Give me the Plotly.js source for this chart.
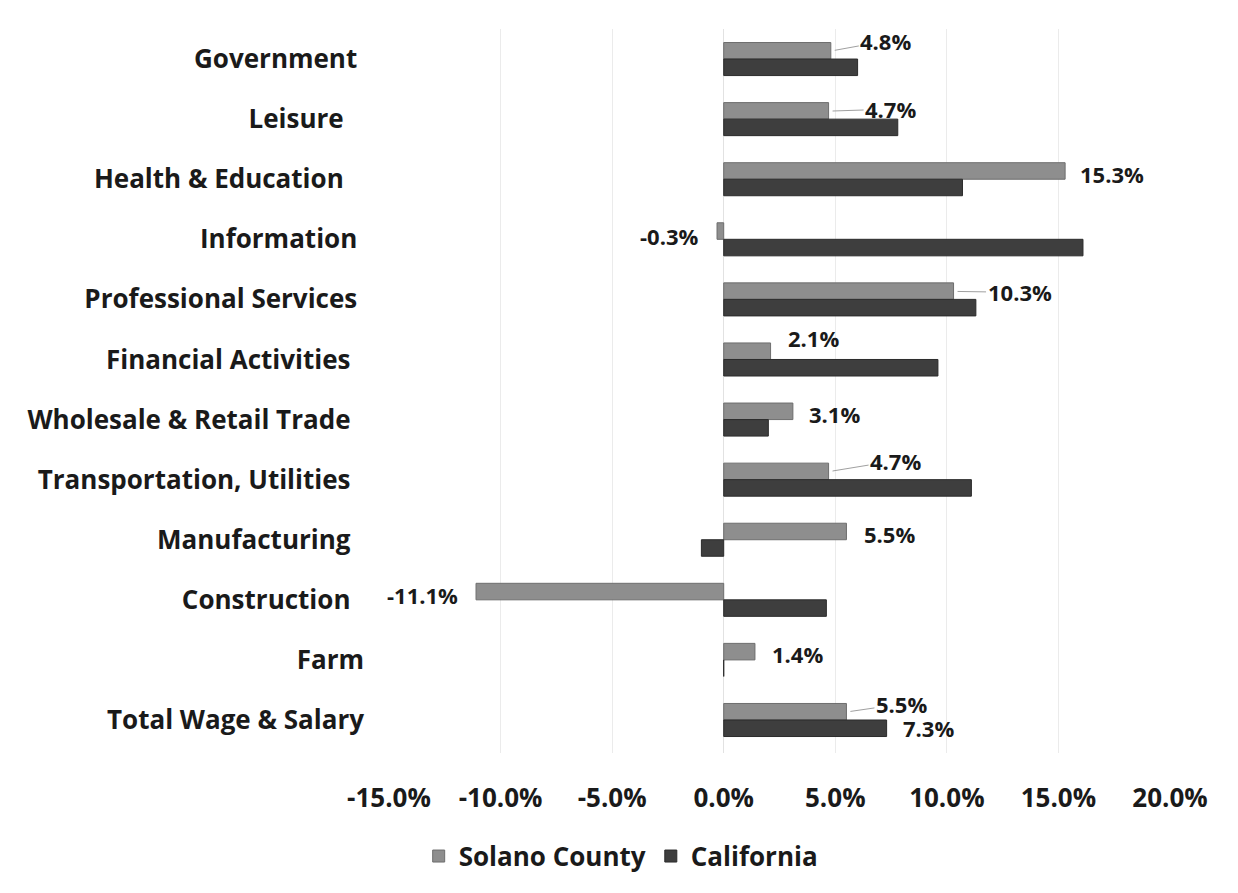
<!DOCTYPE html>
<html><head><meta charset="utf-8">
<script src="https://cdn.plot.ly/plotly-3.0.1.min.js"></script>
<style>html,body{margin:0;padding:0;background:#fff;}#chart{width:1238px;height:893px;}</style>
</head><body><div id="chart"></div>
<script>
// ---- data ----
const categories = ["Government","Leisure","Health & Education","Information","Professional Services","Financial Activities","Wholesale & Retail Trade","Transportation, Utilities","Manufacturing","Construction","Farm","Total Wage & Salary"];
const solano = [4.8, 4.7, 15.3, -0.3, 10.3, 2.1, 3.1, 4.7, 5.5, -11.1, 1.4, 5.5];
const california = [6.0, 7.8, 10.7, 16.1, 11.3, 9.6, 2.0, 11.1, -1.0, 4.6, 0.0, 7.3];
const xTickVals = [-15, -10, -5, 0, 5, 10, 15, 20];
const xTickText = ["-15.0%", "-10.0%", "-5.0%", "0.0%", "5.0%", "10.0%", "15.0%", "20.0%"];
const seriesNames = ["Solano County", "California"];

// ---- styling / label placement (pixels) ----
const catPad = [1,3,3,1,1,2,2,2,2,2,0,0]; // trailing spaces in original labels
const solanoLabelPos = [
  {arrow:true, ax:55, ay:-10},
  {arrow:true, ax:62, ay:-2},
  {anchor:'left', xs:13, ys:5},
  {anchor:'right', xs:-16, ys:3},
  {arrow:true, ax:66, ay:1},
  {anchor:'left', xs:15, ys:21},
  {anchor:'left', xs:14, ys:6},
  {arrow:true, ax:67, ay:-11},
  {anchor:'left', xs:16, ys:6},
  {anchor:'right', xs:-16, ys:5},
  {anchor:'left', xs:15, ys:6},
  {arrow:true, ax:55, ay:-8}
];
const calLabelIndex = 11;
const calLabelPos = {anchor:'left', xs:14, ys:-8};

const fmt = v => v.toFixed(1) + '%';
const labelFont = {family:'"Open Sans", sans-serif', size:22, color:'#1a1a1a', weight:700};

const annotations = [];
solano.forEach((v, i) => {
  const p = solanoLabelPos[i];
  if (p.arrow) {
    annotations.push({x:v, y:categories[i], xref:'x', yref:'y', text:fmt(v), font:labelFont,
      showarrow:true, arrowhead:0, arrowwidth:1, arrowcolor:'#a0a0a0', ax:p.ax, ay:p.ay,
      axref:'pixel', ayref:'pixel', standoff:4, yshift:8});
  } else {
    annotations.push({x:v, y:categories[i], xref:'x', yref:'y', text:fmt(v), font:labelFont,
      showarrow:false, xanchor:p.anchor, yanchor:'middle', xshift:p.xs, yshift:p.ys});
  }
});
annotations.push({x:california[calLabelIndex], y:categories[calLabelIndex], xref:'x', yref:'y',
  text:fmt(california[calLabelIndex]), font:labelFont, showarrow:false,
  xanchor:calLabelPos.anchor, yanchor:'middle', xshift:calLabelPos.xs, yshift:calLabelPos.ys});

const padded = categories.map((c, i) => c + '\u00a0'.repeat(catPad[i]));

const traces = [
  {type:'bar', orientation:'h', name:seriesNames[0], y:categories, x:solano,
   marker:{color:'#8e8e8e', line:{color:'#6e6e6e', width:1}}, hoverinfo:'skip'},
  {type:'bar', orientation:'h', name:seriesNames[1], y:categories, x:california,
   marker:{color:'#3e3e3e', line:{color:'#2b2b2b', width:1}}, hoverinfo:'skip'}
];

const layout = {
  width:1238, height:893,
  margin:{l:389, r:68, t:29, b:140, pad:0},
  paper_bgcolor:'#ffffff', plot_bgcolor:'#ffffff',
  barmode:'group', bargap:0.45, bargroupgap:0,
  font:{family:'"Open Sans", sans-serif', color:'#1a1a1a', weight:700},
  xaxis:{range:[-15,20], tickmode:'array', tickvals:xTickVals, ticktext:xTickText,
    showgrid:true, gridcolor:'#ebebeb', gridwidth:1, zeroline:true, zerolinecolor:'#e2e2e2', zerolinewidth:1,
    showline:false, ticks:'', tickfont:{size:26, weight:700}, ticklabelstandoff:27, fixedrange:true},
  yaxis:{type:'category', autorange:'reversed', tickmode:'array', tickvals:categories, ticktext:padded,
    showgrid:false, zeroline:false, showline:false, ticks:'', tickfont:{size:26, weight:700},
    ticklabelstandoff:24, fixedrange:true},
  legend:{orientation:'h', x:0.038, xanchor:'left', y:-0.110, yanchor:'top',
    font:{size:26, weight:700}, itemclick:false, itemdoubleclick:false},
  showlegend:true,
  hovermode:false,
  annotations:annotations
};

Plotly.newPlot('chart', traces, layout, {displayModeBar:false, staticPlot:true});
</script>
</body></html>
